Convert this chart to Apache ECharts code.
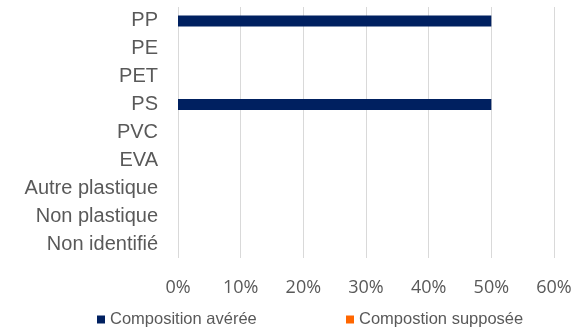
<!DOCTYPE html>
<html>
<head>
<meta charset="utf-8">
<script src="https://cdn.jsdelivr.net/npm/echarts@6/dist/echarts.min.js"></script>
<style>html,body{margin:0;padding:0;background:#fff;}#c{width:575px;height:327px;}</style>
</head>
<body>
<div id="c"></div>
<script>
const categories = ['PP', 'PE', 'PET', 'PS', 'PVC', 'EVA', 'Autre plastique', 'Non plastique', 'Non identifié'];
const averee = [0.5, 0, 0, 0.5, 0, 0, 0, 0, 0];
const supposee = [0, 0, 0, 0, 0, 0, 0, 0, 0];
const seriesNames = ['Composition avérée', 'Compostion supposée'];

const legendText = {fontFamily: 'Liberation Sans', fontSize: 16.5, color: '#595959'};
const chart = echarts.init(document.getElementById('c'), null, {renderer: 'canvas'});
chart.setOption({
  animation: false,
  grid: {left: 178, right: 21, top: 7, bottom: 69, containLabel: false},
  legend: [
    {data: [seriesNames[0]], left: 92, top: 306, itemWidth: 8, itemHeight: 8, icon: 'rect', textStyle: legendText},
    {data: [seriesNames[1]], left: 341, top: 306, itemWidth: 8, itemHeight: 8, icon: 'rect', textStyle: legendText}
  ],
  xAxis: {
    type: 'value', min: 0, max: 0.6, interval: 0.1,
    axisLine: {show: false}, axisTick: {show: false},
    splitLine: {lineStyle: {color: '#d9d9d9', width: 1}},
    axisLabel: {
      margin: 21, color: '#595959', fontFamily: 'Open Sans', fontSize: 18,
      formatter: v => Math.round(v * 100) + '%'
    }
  },
  yAxis: {
    type: 'category', data: categories, inverse: true,
    axisLine: {show: false}, axisTick: {show: false},
    axisLabel: {margin: 20, color: '#595959', fontFamily: 'Liberation Sans', fontSize: 20}
  },
  series: [
    {name: seriesNames[0], type: 'bar', data: averee, barWidth: 11, barGap: '-100%', itemStyle: {color: '#002060'}},
    {name: seriesNames[1], type: 'bar', data: supposee, barWidth: 11, itemStyle: {color: '#FF6600'}}
  ]
});
</script>
</body>
</html>
